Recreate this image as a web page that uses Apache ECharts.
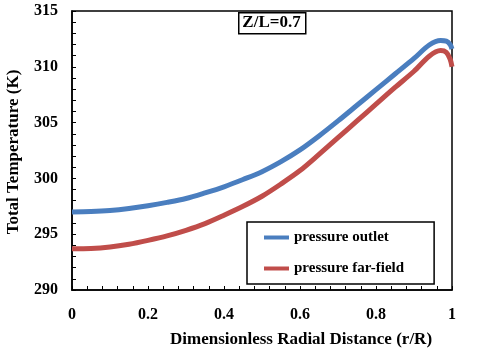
<!DOCTYPE html>
<html>
<head>
<meta charset="utf-8">
<script src="https://cdn.jsdelivr.net/npm/echarts@6/dist/echarts.min.js"></script>
<style>
  html, body { margin: 0; padding: 0; background: #fff; }
  #chart { width: 480px; height: 352px; }
</style>
</head>
<body>
<div id="chart"></div>
<script>
var radialPos = [0, 0.05, 0.1, 0.15, 0.2, 0.25, 0.3, 0.35, 0.4, 0.45, 0.5, 0.55, 0.6, 0.65, 0.7, 0.75, 0.8, 0.85, 0.9, 0.94, 0.97, 0.985, 0.995, 1]
var outletTemp = [297.0, 297.03, 297.12, 297.3, 297.55, 297.85, 298.2, 298.7, 299.25, 299.9, 300.6, 301.5, 302.55, 303.8, 305.15, 306.55, 307.95, 309.35, 310.75, 311.95, 312.35, 312.3, 312.0, 311.6]
var farFieldTemp = [293.7, 293.72, 293.85, 294.1, 294.45, 294.85, 295.35, 295.95, 296.7, 297.5, 298.4, 299.5, 300.7, 302.15, 303.65, 305.15, 306.65, 308.15, 309.6, 310.95, 311.45, 311.3, 310.7, 310.0]
var seriesNames = ['pressure outlet', 'pressure far-field']
var xTitle = 'Dimensionless Radial Distance (r/R)'
var yTitle = 'Total Temperature (K)'
var noteText = 'Z/L=0.7'

var font = '"Liberation Serif", "Times New Roman", serif'
var chart = echarts.init(document.getElementById('chart'))

function pairs(xs, ys) {
    return xs.map(function(x, i) { return [x, ys[i]] })
}

var axisCommon = {
    axisLine: { show: true, lineStyle: { color: '#000', width: 1.5 } },
    axisTick: { show: true, inside: true, length: 4, lineStyle: { color: '#000', width: 1 } },
    minorTick: { show: true, splitNumber: 5, length: 4, lineStyle: { color: '#000', width: 1 } },
    splitLine: { show: false },
    axisLabel: { color: '#000', fontFamily: font, fontWeight: 'bold', fontSize: 16 }
}

// line-only legend mark, no dot
var legendIcon = 'path://M0,0L25,0L25,4L0,4Z'

var options = {
    animation: false,
    backgroundColor: '#fff',
    grid: {
        left: 72, right: 28, top: 11, bottom: 62,
        show: true, borderColor: '#000', borderWidth: 1.5
    },
    xAxis: echarts.util.merge({
        type: 'value', min: 0, max: 1, interval: 0.2,
        axisLabel: { margin: 17 }
    }, axisCommon),
    yAxis: echarts.util.merge({
        type: 'value', min: 290, max: 315, interval: 5,
        axisLabel: { margin: 14 }
    }, axisCommon),
    legend: {
        orient: 'vertical',
        left: 247, top: 222,
        padding: [8, 30, 8, 17],
        itemWidth: 25, itemHeight: 14, itemGap: 16,
        icon: legendIcon,
        borderColor: '#000', borderWidth: 1.5,
        textStyle: { color: '#000', fontFamily: font, fontWeight: 'bold', fontSize: 15 },
        data: seriesNames
    },
    graphic: [
        {
            type: 'rect', left: 238, top: 12,
            shape: { width: 67, height: 21 },
            style: { fill: '#fff', stroke: '#000', lineWidth: 1.5 }
        },
        {
            type: 'text', x: 271.5, y: 23,
            style: { text: noteText, fill: '#000', font: 'bold 17px ' + font, align: 'center', verticalAlign: 'middle' }
        },
        {
            type: 'text', x: 301, y: 340,
            style: { text: xTitle, fill: '#000', font: 'bold 17px ' + font, align: 'center', verticalAlign: 'middle' }
        },
        {
            type: 'text', x: 14, y: 152, rotation: Math.PI / 2,
            style: { text: yTitle, fill: '#000', font: 'bold 17px ' + font, align: 'center', verticalAlign: 'middle' }
        }
    ],
    series: [{
        name: seriesNames[0],
        type: 'line',
        symbol: 'none',
        smooth: 0.3,
        lineStyle: { color: '#4a7ebf', width: 5 },
        itemStyle: { color: '#4a7ebf' },
        data: pairs(radialPos, outletTemp)
    }, {
        name: seriesNames[1],
        type: 'line',
        symbol: 'none',
        smooth: 0.3,
        lineStyle: { color: '#c04d4a', width: 5 },
        itemStyle: { color: '#c04d4a' },
        data: pairs(radialPos, farFieldTemp)
    }]
}

chart.setOption(options)
</script>
</body>
</html>
